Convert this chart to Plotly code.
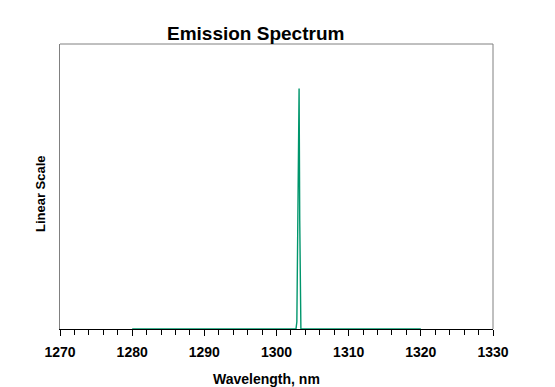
import plotly.graph_objects as go

# Data
wavelength_nm = [1280.0, 1302.7, 1302.82, 1302.9, 1303.03, 1303.13, 1303.22, 1303.28, 1303.38, 1320.0]
intensity = [0.0, 0.0, 0.03, 0.39, 0.96, 1.0, 0.45, 0.03, 0.0, 0.0]

x_ticks = [1270, 1280, 1290, 1300, 1310, 1320, 1330]

L, R, T, B = 60, 62, 44, 58
W, H = 555, 387
FONT = "Liberation Sans, Arial, sans-serif"

fig = go.Figure()
fig.add_trace(go.Scatter(
    x=wavelength_nm, y=intensity, mode="lines",
    line=dict(color="#00966C", width=1.4), showlegend=False, hoverinfo="skip"))

fig.update_layout(
    width=W, height=H,
    margin=dict(l=L, r=R, t=T, b=B),
    plot_bgcolor="white", paper_bgcolor="white",
    font=dict(family=FONT, color="black"),
    xaxis=dict(
        range=[1270, 1330], tickvals=x_ticks,
        ticktext=[f"<b>{v}</b>" for v in x_ticks],
        showline=True, linecolor="black", linewidth=1,
        ticks="outside", ticklen=6, tickcolor="black", tickwidth=1,
        ticklabelstandoff=4,
        minor=dict(dtick=2, ticks="outside", ticklen=5, tickcolor="black", tickwidth=1),
        showgrid=False, zeroline=False,
        tickfont=dict(size=14, family=FONT),
    ),
    yaxis=dict(
        range=[0, 1.185], showticklabels=False, ticks="",
        showline=True, linecolor="#808080", linewidth=1,
        showgrid=False, zeroline=False,
    ),
    shapes=[
        dict(type="line", xref="paper", yref="paper", x0=0, x1=1, y0=1, y1=1,
             line=dict(color="#808080", width=1)),
        dict(type="line", xref="paper", yref="paper", x0=1, x1=1, y0=0, y1=1,
             line=dict(color="#808080", width=1)),
    ],
    annotations=[
        dict(text="<b>Emission Spectrum</b>", xref="paper", yref="paper",
             x=(255 - L) / (W - L - R), y=(H - B - 34) / (H - T - B),
             xanchor="center", yanchor="middle", showarrow=False,
             font=dict(size=19, family=FONT)),
        dict(text="<b>Linear Scale</b>", xref="paper", yref="paper",
             x=(40 - L) / (W - L - R), y=(H - B - 194) / (H - T - B),
             xanchor="center", yanchor="middle", showarrow=False, textangle=-90,
             font=dict(size=13, family=FONT)),
        dict(text="<b>Wavelength, nm</b>", xref="paper", yref="paper",
             x=(266 - L) / (W - L - R), y=(H - B - 379) / (H - T - B),
             xanchor="center", yanchor="middle", showarrow=False,
             font=dict(size=14, family=FONT)),
    ],
)

fig.write_html("out.html")
